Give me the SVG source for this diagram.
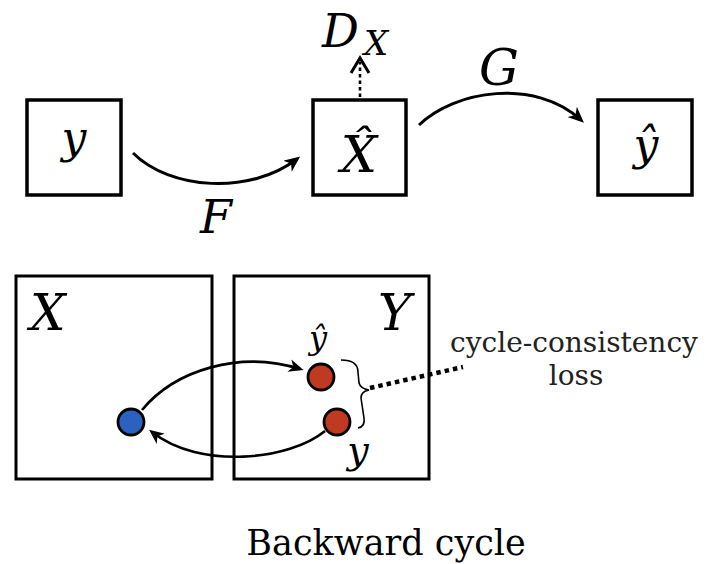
<svg xmlns="http://www.w3.org/2000/svg" width="707" height="564" viewBox="0 0 707 564">
<style>
.box{fill:#fff;stroke:#000;stroke-width:3.5}
.frame{fill:none;stroke:#000;stroke-width:3}
.math{font-family:"DejaVu Serif",serif;font-style:italic;fill:#000}
.edge{fill:none;stroke:#000;stroke-width:3}
.edge2{fill:none;stroke:#000;stroke-width:2.6}
.lbl{font-family:"DejaVu Serif",serif;fill:#222;font-size:28px}
.cap{font-family:"DejaVu Serif",serif;fill:#000;font-size:35px}
</style>
<defs>
<marker id="ah" viewBox="0 0 16 14" refX="12" refY="7" markerWidth="16" markerHeight="14" markerUnits="userSpaceOnUse" orient="auto">
<path d="M0,0 L16,7 L0,14 L4.5,7 z" fill="#000"/>
</marker>
<marker id="ah2" viewBox="0 0 16 14" refX="12" refY="7" markerWidth="15" markerHeight="13" markerUnits="userSpaceOnUse" orient="auto">
<path d="M0,0 L16,7 L0,14 L4.5,7 z" fill="#000"/>
</marker>
</defs>
<rect width="707" height="564" fill="#fff"/>

<g id="connectors">
<path class="edge" d="M133,153 C170,190 250,195 297,159" marker-end="url(#ah)"/>
<path class="edge" d="M419,125 C455,90 535,78 581,120" marker-end="url(#ah)"/>
<path d="M360,97 L360,62" fill="none" stroke="#000" stroke-width="2.6" stroke-dasharray="3.5,3"/>
<path d="M351,73 L360,58 L369,73" fill="none" stroke="#000" stroke-width="3"/>
<path class="edge2" d="M142,410 C175,370 240,350 300,369" marker-end="url(#ah2)"/>
<path class="edge2" d="M325,431 C290,460 200,470 152,432" marker-end="url(#ah2)"/>
<path d="M370,388 L463,367" fill="none" stroke="#000" stroke-width="4.5" stroke-dasharray="4.5,4"/>
<path d="M341,360 C352,360 358,364 358,372 L359,383 C360,387 363,389 369,390 C363,391 361,394 361,398 L364,418 C365,424 363,427 358,428" fill="none" stroke="#000" stroke-width="1.6"/>
</g>

<g id="node-y">
<rect class="box" x="27" y="100" width="94" height="95"/>
<text class="math" x="74" y="153" font-size="44" text-anchor="middle">y</text>
</g>
<g id="node-xhat">
<rect class="box" x="313" y="100" width="93" height="95"/>
<text class="math" x="359" y="172" font-size="51" text-anchor="middle">X̂</text>
</g>
<g id="node-yhat">
<rect class="box" x="598" y="100" width="94" height="95"/>
<text class="math" x="646" y="160" font-size="44" text-anchor="middle">ŷ</text>
</g>
<g id="label-DX">
<text class="math" x="322" y="47" font-size="46">D</text>
<text class="math" x="364" y="55" font-size="34">X</text>
</g>
<text class="math" x="499" y="85" font-size="50" text-anchor="middle">G</text>
<text class="math" x="216" y="233" font-size="46" text-anchor="middle">F</text>

<g id="domain-X">
<rect class="frame" x="16" y="276" width="196" height="203"/>
<text class="math" x="30" y="330" font-size="50">X</text>
</g>
<g id="domain-Y">
<rect class="frame" x="234" y="276" width="195" height="203"/>
<text class="math" x="378" y="330" font-size="50">Y</text>
</g>

<g id="point-x">
<circle cx="131" cy="422" r="13" fill="#2b62c0" stroke="#000" stroke-width="2.8"/>
</g>
<g id="point-yhat">
<circle cx="321" cy="377" r="13" fill="#c03a22" stroke="#000" stroke-width="2.8"/>
<text class="math" x="318" y="349" font-size="32" text-anchor="middle">ŷ</text>
</g>
<g id="point-y">
<circle cx="337" cy="422" r="13" fill="#c03a22" stroke="#000" stroke-width="2.8"/>
<text class="math" x="358" y="463" font-size="38" text-anchor="middle">y</text>
</g>

<g id="loss-label">
<text class="lbl" x="574" y="352" text-anchor="middle">cycle-consistency</text>
<text class="lbl" x="576" y="385" text-anchor="middle">loss</text>
</g>
<text class="cap" x="386" y="555" text-anchor="middle">Backward cycle</text>
</svg>
